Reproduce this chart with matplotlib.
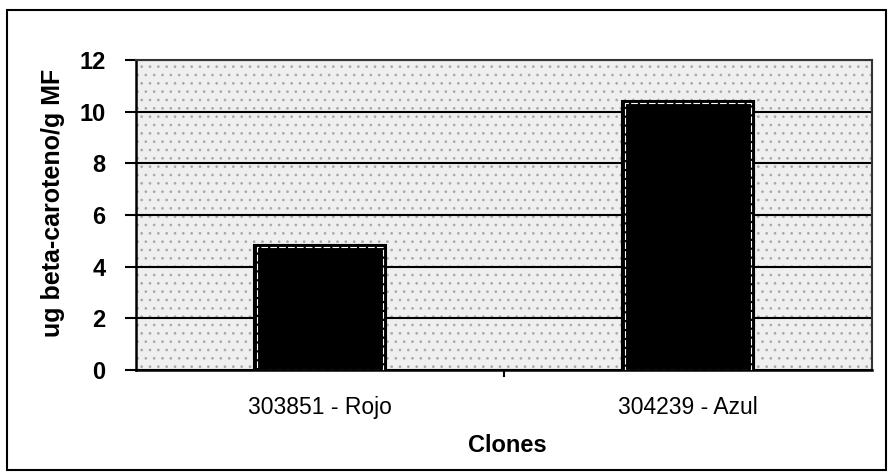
import matplotlib.pyplot as plt
from matplotlib.patches import Rectangle

clones = ['303851 - Rojo', '304239 - Azul']
beta_caroteno = [4.85, 10.4]
y_ticks = [0, 2, 4, 6, 8, 10, 12]

plt.rcParams['font.family'] = ['Liberation Sans', 'DejaVu Sans']
plt.rcParams['hatch.linewidth'] = 0.7

fig = plt.figure(figsize=(8.9, 4.72), dpi=100)
ax = fig.add_axes([0.1528, 0.2161, 0.8270, 0.6568])

# speckled grey plot area
ax.add_patch(Rectangle((0, 0), 1, 1, transform=ax.transAxes, facecolor='#efefef',
                       hatch='..', edgecolor='#a8a8a8', linewidth=0, zorder=0))

x = range(len(clones))
ax.bar(x, beta_caroteno, width=0.36, color='black', edgecolor='black', linewidth=1.5, zorder=3)
# light inner outline on the bars
ax.bar(x, [v - 0.08 for v in beta_caroteno], width=0.345, fill=False, edgecolor='white',
       linewidth=0.8, linestyle=(0, (6, 2)), zorder=4)

ax.set_xlim(-0.5, 1.5)
ax.set_ylim(0, 12)
ax.set_yticks(y_ticks)
ax.yaxis.grid(True, color='black', linewidth=1.5)
ax.set_axisbelow(True)

ax.set_xticks(list(x))
ax.set_xticklabels(clones, fontsize=16.5)
ax.tick_params(axis='x', length=0, pad=19)
ax.set_xticks([0.5], minor=True)
ax.tick_params(axis='x', which='minor', length=5, width=1.5, direction='out')
ax.tick_params(axis='y', length=8, width=1.5, labelsize=17, pad=14)
for lab in ax.get_yticklabels():
    lab.set_fontweight('bold')

for side in ['left', 'bottom']:
    ax.spines[side].set_linewidth(1.8)
for side in ['top', 'right']:
    ax.spines[side].set_linewidth(1.5)
    ax.spines[side].set_color('#333333')

ax.set_ylabel('ug beta-caroteno/g MF', fontsize=18, fontweight='bold')
ax.yaxis.set_label_coords(-0.097, 0.54)
ax.set_xlabel('Clones', fontsize=17, fontweight='bold')
ax.xaxis.set_label_coords(0.505, -0.205)

# outer chart frame
fig.add_artist(Rectangle((0.008, 0.004), 0.988, 0.975, transform=fig.transFigure,
                         fill=False, edgecolor='black', linewidth=1.5))

fig.savefig('out.png', dpi=100)
